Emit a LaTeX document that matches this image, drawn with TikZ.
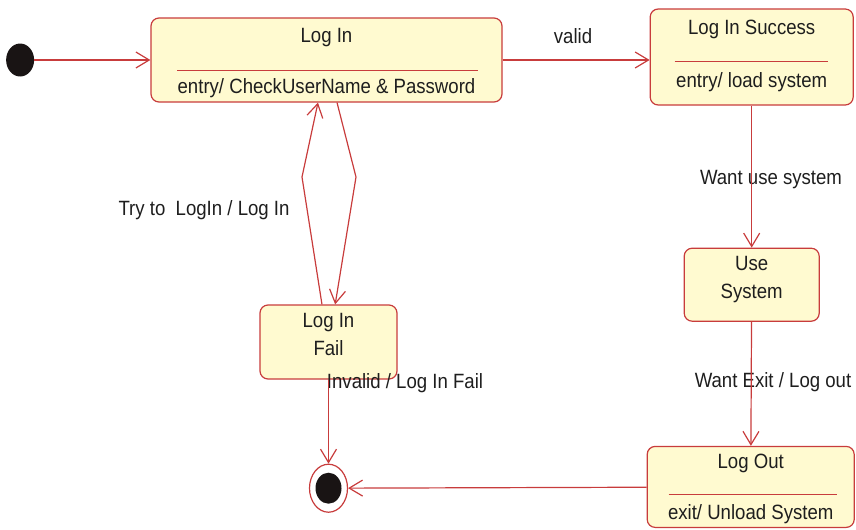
\documentclass[tikz,border=0pt]{standalone}
\usepackage{fontspec}
\setmainfont{Liberation Sans}[FakeStretch=0.9]
\usetikzlibrary{arrows.meta,positioning,calc,shapes.geometric}
\definecolor{statered}{RGB}{200,60,60}
\definecolor{statefill}{RGB}{255,250,208}
\definecolor{dotblack}{RGB}{25,20,20}
\definecolor{textgray}{RGB}{30,30,30}
\tikzset{main base/.style={draw=statered,line width=0.9pt,text centered, }, }
\tikzset{main node/.style={rectangle,rounded corners=6pt,fill=statefill,inner sep=0pt,main base}, }
\tikzset{main verb/.style={text=textgray,inner sep=0pt,align=center,font=\fontsize{15.5}{21}\selectfont}, }
\tikzset{linea/.style={-{Straight Barb[length=10pt,width=12pt]},line width=0.9pt,draw=statered}}
\tikzset{divisore/.style={draw=statered,line width=0.9pt}}
\tikzset{inizio/.style={ellipse,fill=dotblack,inner sep=0pt}, }
\tikzset{fine/.style={ellipse,draw=statered,fill=white,line width=0.9pt,inner sep=0pt,
    minimum width=28.5pt,minimum height=36pt}, }

\begin{document}
\begin{tikzpicture}[x=0.75pt,y=-0.75pt]
  \useasboundingbox (0,0) rectangle (856,529);
  %
    \node[main node,minimum width=263.25pt,minimum height=63pt] (2) at (326.5,60) {};
    \node[inizio,minimum width=21pt,minimum height=24.75pt] (1) [left=87pt of 2] {};
    \node[main node,minimum width=152.25pt,minimum height=72pt] (3) [right=110.25pt of 2,yshift=2.25pt] {};
    \node[main node,minimum width=101.25pt,minimum height=54.75pt] (4) [below=106.5pt of 3] {};
    \node[main node,minimum width=155.25pt,minimum height=60.75pt] (5) [below=93pt of 4,xshift=-0.75pt] {};
    \node[main node,minimum width=102.75pt,minimum height=55.5pt] (6) at (328.5,342) {};
    \node[fine] (7) [below=63pt of 6] {};
    \node[inizio,minimum width=19.5pt,minimum height=23.25pt] (7a) at (7) {};
%   texts of the states
    \node[main verb] (2a) at ($(2.north)+(0,20)$) {Log In};
    \node[main verb] (2b) at ($(2.north)+(0,71)$) {entry/ CheckUserName \& Password};
    \node[main verb] (3a) at ($(3.north)+(0,21)$) {Log In Success};
    \node[main verb] (3b) at ($(3.north)+(0,74)$) {entry/ load system};
    \node[main verb] (4a) at ($(4.north)+(0,32)$) {Use\\System};
    \node[main verb] (5a) at ($(5.north)+(0,18)$) {Log Out};
    \node[main verb] (5b) at ($(5.north)+(0,68)$) {exit/ Unload System};
    \node[main verb] (6a) at ($(6.north)+(0,30)$) {Log In\\Fail};
%   dividers
    \draw[divisore] ($(2.north west)+(27,53)$) -- ($(2.north east)+(-25,53)$);
    \draw[divisore] ($(3.north west)+(25,53)$) -- ($(3.north east)+(-26,53)$);
    \draw[divisore] ($(5.north west)+(22,49)$) -- ($(5.north east)+(-18,49)$);
%   transition labels
    \node[main verb] (8) at (573,36) {valid};
    \node[main verb] (9) at (204,210) {Try to\ \ LogIn / Log In};
    \node[main verb] (10) at (771,180) {Want use system};
    \node[main verb] (11) at (773,382) {Want Exit / Log out};
    \node[main verb] (12) at (405,383) {Invalid / Log In Fail};
%
\foreach \x /\y in{1/2,3/4,4/5,6/7,5/7}
  \path[linea] (\x) edge node {} (\y);
    \draw[linea] (2.east) -- (2.east -| 3.west);
%
    \coordinate (k1) at (302,177);
    \coordinate (k2) at (356,177);
    \draw[linea] ([xshift=-4.9pt]6.north) -- (k1) -- ([xshift=-6.4pt]2.south);
    \draw[linea] ([xshift=7.9pt]2.south) -- (k2) -- ([xshift=5pt]6.north);
%
\end{tikzpicture}
\end{document}
